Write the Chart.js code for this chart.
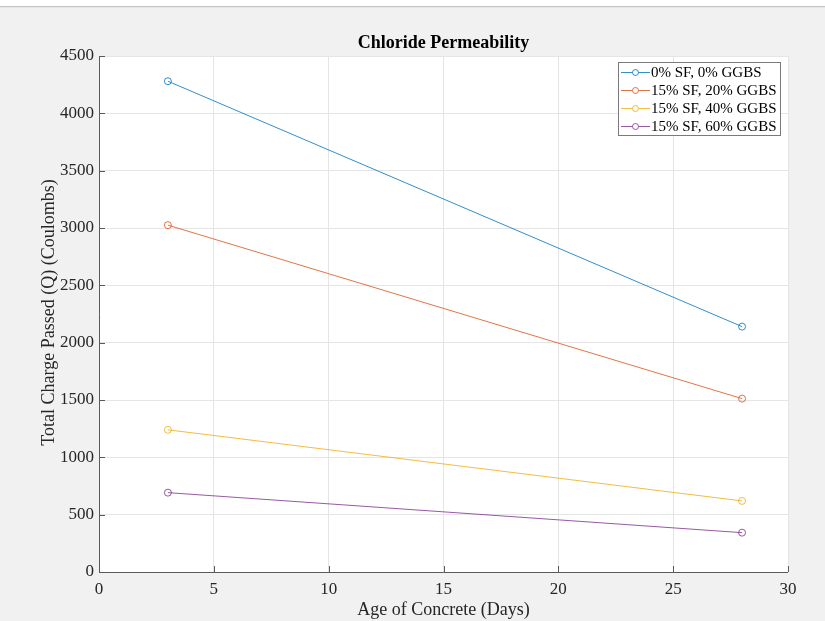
<!DOCTYPE html>
<html>
<head>
<meta charset="utf-8">
<script src="https://cdn.jsdelivr.net/npm/chart.js@4.4.0/dist/chart.umd.min.js"></script>
<style>
  html, body { margin: 0; padding: 0; background: #ffffff; overflow: hidden; }
  canvas { display: block; }
</style>
</head>
<body>
<canvas id="myChart" width="825" height="621"></canvas>
<script>
const ages = [3, 28];
const plainMix = [4280, 2140];
const sf15ggbs20 = [3025, 1512];
const sf15ggbs40 = [1240, 620];
const sf15ggbs60 = [692, 343];
const seriesNames = ['0% SF, 0% GGBS', '15% SF, 20% GGBS', '15% SF, 40% GGBS', '15% SF, 60% GGBS'];
const xTicks = [0, 5, 10, 15, 20, 25, 30];
const yTicks = [0, 500, 1000, 1500, 2000, 2500, 3000, 3500, 4000, 4500];

// matlab default line colours, a bit softened like the thin antialiased lines in the picture
const colors = ['rgba(0,114,189,0.8)', 'rgba(217,83,25,0.8)', 'rgba(237,177,32,0.85)', 'rgba(126,47,142,0.8)'];
const serif = '"Liberation Serif", "DejaVu Serif", serif';

function makeSet(i, values) {
    return {
        label: seriesNames[i],
        data: ages.map((a, k) => ({ x: a, y: values[k] })),
        borderColor: colors[i],
        backgroundColor: 'rgba(0,0,0,0)',
        borderWidth: 1,
        pointRadius: 3.5,
        pointBorderWidth: 1,
        pointBackgroundColor: 'rgba(0,0,0,0)',
        pointBorderColor: colors[i],
        tension: 0
    };
}

// MATLAB-ish figure: gray figure bg, white axes, inner ticks, custom legend and labels
const matlabLook = {
    id: 'matlabLook',
    beforeDraw(chart) {
        const c = chart.ctx;
        const a = chart.chartArea;
        c.save();
        c.fillStyle = '#ffffff';
        c.fillRect(0, 0, chart.width, chart.height);
        c.fillStyle = '#f0f1f0';
        c.fillRect(0, 7, chart.width, chart.height - 7);
        c.fillStyle = '#c4c4c4';
        c.fillRect(0, 6, chart.width, 1.2);
        c.fillStyle = '#ffffff';
        c.fillRect(a.left, a.top, a.right - a.left, a.bottom - a.top);
        c.restore();
    },
    afterDraw(chart) {
        const c = chart.ctx;
        const a = chart.chartArea;
        const xs = chart.scales.x, ys = chart.scales.y;
        c.save();
        // axis lines
        c.strokeStyle = '#5a5a5a';
        c.lineWidth = 1;
        c.beginPath();
        c.moveTo(a.left + 0.5, a.top);
        c.lineTo(a.left + 0.5, a.bottom + 0.5);
        c.lineTo(a.right, a.bottom + 0.5);
        c.stroke();
        // inner ticks
        c.beginPath();
        yTicks.forEach(v => {
            const py = Math.round(ys.getPixelForValue(v)) + 0.5;
            c.moveTo(a.left, py);
            c.lineTo(a.left + 6, py);
        });
        xTicks.forEach(v => {
            const px = Math.round(xs.getPixelForValue(v)) + 0.5;
            c.moveTo(px, a.bottom);
            c.lineTo(px, a.bottom - 6);
        });
        c.stroke();

        // title
        c.fillStyle = '#000000';
        c.textAlign = 'center';
        c.textBaseline = 'alphabetic';
        c.font = 'bold 18px ' + serif;
        c.fillText('Chloride Permeability', (a.left + a.right) / 2, 48);

        // axis titles
        c.fillStyle = '#262626';
        c.font = '18px ' + serif;
        c.textBaseline = 'middle';
        c.fillText('Age of Concrete (Days)', (a.left + a.right) / 2, 610);
        c.save();
        c.translate(49, 312.5);
        c.rotate(-Math.PI / 2);
        c.fillText('Total Charge Passed (Q) (Coulombs)', 0, 0);
        c.restore();

        // legend
        const lx = 618, ly = 62, lw = 162, lh = 73;
        c.fillStyle = '#ffffff';
        c.fillRect(lx, ly, lw, lh);
        c.strokeStyle = '#7a7a7a';
        c.lineWidth = 1;
        c.strokeRect(lx + 0.5, ly + 0.5, lw, lh);
        c.font = '15px ' + serif;
        c.textAlign = 'left';
        chart.data.datasets.forEach((ds, i) => {
            const y = 72.5 + i * 18;
            c.strokeStyle = ds.borderColor;
            c.beginPath();
            c.moveTo(621, y);
            c.lineTo(650, y);
            c.stroke();
            c.fillStyle = '#ffffff';
            c.beginPath();
            c.arc(635.5, y, 3, 0, Math.PI * 2);
            c.fill();
            c.stroke();
            c.fillStyle = '#000000';
            c.fillText(ds.label, 651, y + 1);
        });
        c.restore();
    }
};

const ctx = document.getElementById('myChart').getContext('2d');
const myChart = new Chart(ctx, {
    type: 'line',
    data: {
        datasets: [
            makeSet(0, plainMix),
            makeSet(1, sf15ggbs20),
            makeSet(2, sf15ggbs40),
            makeSet(3, sf15ggbs60)
        ]
    },
    options: {
        responsive: false,
        animation: false,
        devicePixelRatio: 1,
        layout: { padding: { left: 0, right: 37, top: 56, bottom: 0 } },
        plugins: {
            legend: { display: false },
            title: { display: false },
            tooltip: { enabled: false }
        },
        scales: {
            x: {
                type: 'linear',
                min: 0,
                max: 30,
                afterBuildTicks: (s) => { s.ticks = xTicks.map(v => ({ value: v })); },
                afterFit: (s) => { s.height = 49; },
                grid: { color: '#e5e5e5', lineWidth: 1, drawTicks: false },
                border: { display: false },
                ticks: {
                    color: '#262626',
                    font: { family: serif, size: 17 },
                    padding: 7,
                    maxRotation: 0,
                    autoSkip: false,
                    callback: (v) => String(v)
                }
            },
            y: {
                type: 'linear',
                min: 0,
                max: 4500,
                afterBuildTicks: (s) => { s.ticks = yTicks.map(v => ({ value: v })); },
                afterFit: (s) => { s.width = 99; },
                grid: { color: '#e5e5e5', lineWidth: 1, drawTicks: false },
                border: { display: false },
                ticks: {
                    color: '#262626',
                    font: { family: serif, size: 17 },
                    padding: 5,
                    autoSkip: false,
                    callback: (v) => String(v)
                }
            }
        }
    },
    plugins: [matlabLook]
});
</script>
</body>
</html>
